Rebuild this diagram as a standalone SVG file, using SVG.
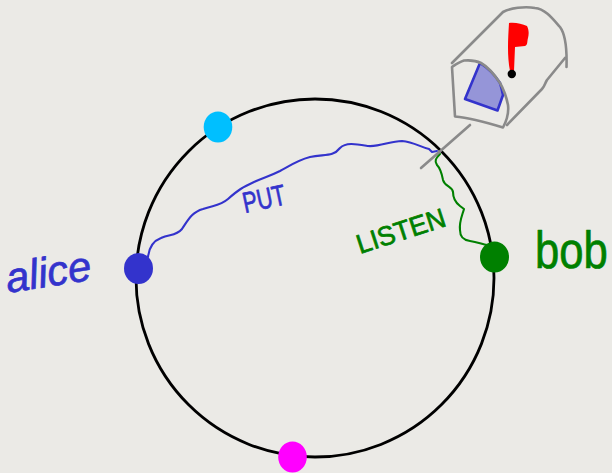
<svg xmlns="http://www.w3.org/2000/svg" width="612" height="473" viewBox="0 0 612 473">
<style>
text{font-family:"Liberation Sans","DejaVu Sans",sans-serif}
.line{fill:none;stroke-linecap:round;stroke-linejoin:round}
.gray{stroke:#8a8a8a;stroke-width:2.6;fill:none;stroke-linecap:round;stroke-linejoin:round}
.blue{fill:#3333cc}.green{fill:#008000}
.hand{stroke-width:.7;stroke-linejoin:round}
</style>
<rect width="612" height="473" fill="#ebeae6"/>
<g id="ring"><circle cx="315" cy="278" r="179" fill="none" stroke="#000" stroke-width="2.8"/></g>
<g id="connectors">
<path class="line" stroke="#3333cc" stroke-width="2.1" d="M148 257C149 248 153 241 161 238C170 234 176 236 182 229C188 220 192 212 203 209C214 205 220 206 228 199C238 190 243 187 254 182C265 177 270 176 280 171C289 166 298 160 310 157C325 154 333 157 340 148C346 142 356 144 368 146C380 147 390 141 402 141C414 142 420 147 429 149L432 152L437 151"/>
<path class="line" stroke="#008000" stroke-width="2.1" d="M440 154C436 158 434 161 437 165C441 169 442 175 443 180C445 187 452 186 453 192C453 198 456 203 460 206L464 209C462 216 459 222 460 230C460 237 463 240 470 241C477 242 482 244 487 245"/>
</g>
<g id="alice">
<ellipse class="blue" cx="138.500" cy="268.500" rx="14.500" ry="15.500"/>
<text class="blue hand" stroke="#3333cc" font-style="italic" x="8" y="293" font-size="42" textLength="86" lengthAdjust="spacingAndGlyphs" transform="rotate(-9 8 293)">alice</text>
</g>
<g id="bob">
<ellipse class="green" cx="494.500" cy="257" rx="14.500" ry="15.500"/>
<text class="green hand" stroke="#008000" font-size="52" transform="translate(535 268) scale(.84 1)">bob</text>
</g>
<g id="node-top"><ellipse cx="218" cy="127" rx="14.300" ry="15.500" fill="#00bfff"/></g>
<g id="node-bottom"><ellipse cx="292.500" cy="457" rx="14.300" ry="15.500" fill="#ff00ff"/></g>
<text class="blue hand" stroke="#3333cc" x="245" y="213" font-size="29" textLength="43" lengthAdjust="spacingAndGlyphs" transform="rotate(-12 245 213)">PUT</text>
<text class="green hand" stroke="#008000" x="360" y="254" font-size="27" textLength="92" lengthAdjust="spacingAndGlyphs" transform="rotate(-18 360 254)">LISTEN</text>
<g id="mailbox">
<path class="gray" d="M470 125L421 168"/>
<path d="M480 63L465 99L497.500 110.500L503 95C502 90 501 86 500 83C495 75 488 68 480 63Z" fill="#9595d8" stroke="#3333cc" stroke-width="2.600" stroke-linejoin="round"/>
<path class="gray" d="M452 63L503 12C510 8 525 6 535 8C545 9 552 18 560 27C566 35 567 50 566.500 67M565 58L547 80C545 83 545 86 542 89L507 125"/>
<path class="gray" d="M452 67C453 84 454 100 455 116.500C470 118 488 123 503 127.500C507 120 509 113 508 105C506 95 504 90 500 83C494 74 488 67 481 63C475 60 470 60 464 60.500C459 62 455 65 452 67Z"/>
<path d="M509 23C515 22 522 24 527 26C529 30 529 34 528 38C527 41 528 45 525 46L515 47L514 71L510 71C507 55 508 40 509 23Z" fill="#ff0000"/>
<circle cx="511.800" cy="74" r="4.200" fill="#000"/>
</g>
</svg>
